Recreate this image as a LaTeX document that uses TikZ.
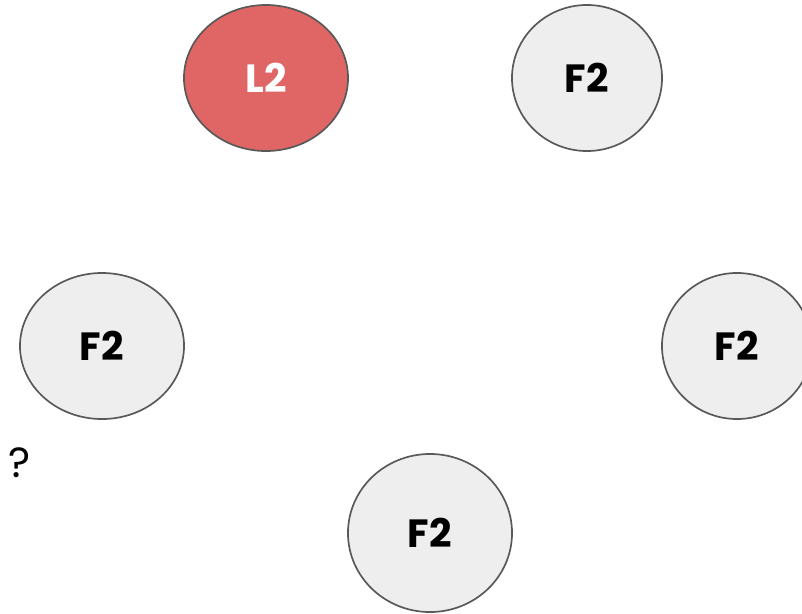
\documentclass[tikz,border=0pt]{standalone}
\usepackage{fontspec}
\setmainfont{Poppins}
\usetikzlibrary{shapes.geometric}
\definecolor{leadred}{HTML}{E06666}
\definecolor{followgrey}{HTML}{EEEEEE}
\definecolor{rimgrey}{HTML}{595959}
\tikzset{
	member/.style={ellipse,draw=rimgrey,line width=1.2pt,inner sep=0pt,
		font=\fontsize{28}{32}\selectfont\bfseries},
	leader/.style={member,fill=leadred,text=white},
	follower/.style={member,fill=followgrey,text=black}
}
\begin{document}
\begin{tikzpicture}[x=0.025cm,y=-0.025cm]

	% Frame
	\useasboundingbox (0,0) rectangle (802,613);

	% Leader
	\node[leader,minimum width=4.1cm,minimum height=3.65cm] (lead) at (266,78) {L2};

	% Followers
	\node[follower,minimum width=3.75cm,minimum height=3.65cm] (fnorth) at (587,78) {F2};
	\node[follower,minimum width=4.1cm,minimum height=3.65cm] (fwest) at (102,346) {F2};
	\node[follower,minimum width=3.75cm,minimum height=3.65cm] (feast) at (737,346) {F2};
	\node[follower,minimum width=4.1cm,minimum height=3.95cm] (fsouth) at (430,533) {F2};

	% Unknown
	\node[font=\fontsize{30}{34}\selectfont] (unknown) at (20,463) {?};

\end{tikzpicture}
\end{document}
